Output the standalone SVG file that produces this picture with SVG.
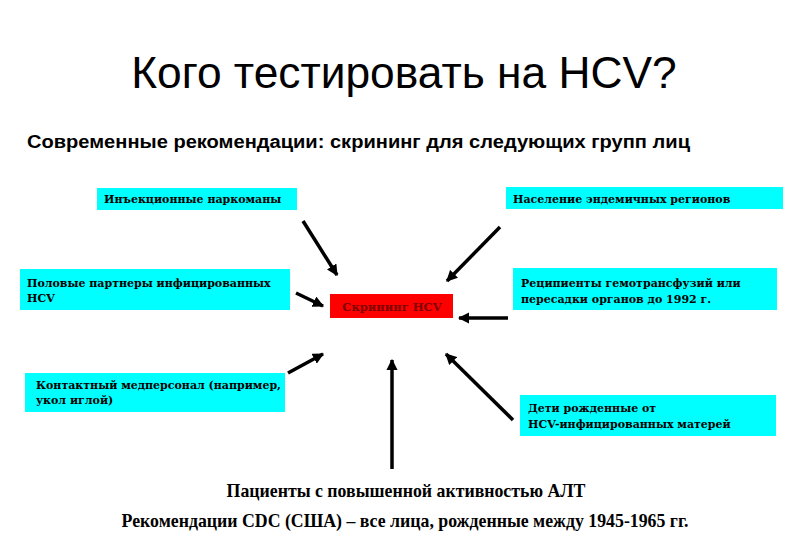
<svg xmlns="http://www.w3.org/2000/svg" width="810" height="540" viewBox="0 0 810 540">
<defs>
<style>
.box{fill:#00ffff}
.bt{font-family:"DejaVu Serif","Liberation Serif",serif;font-weight:bold;font-size:11px;fill:#000}
.ar{stroke:#000;stroke-width:3.5;fill:none;marker-end:url(#ah)}
.bot{font-family:"Liberation Serif",serif;font-weight:bold;font-size:17.8px;fill:#000;text-anchor:middle}
</style>
<marker id="ah" viewBox="0 0 10 10" refX="9" refY="5" markerWidth="3.2" markerHeight="3.2" orient="auto" markerUnits="strokeWidth">
<path d="M0,0 L10,5 L0,10 Z" fill="#000"/>
</marker>
</defs>
<rect width="810" height="540" fill="#fff"/>
<text x="404" y="88" font-family="Liberation Sans, Arial, sans-serif" font-size="44.3" text-anchor="middle" fill="#000">Кого тестировать на HCV?</text>
<text x="27" y="148" font-family="Liberation Sans, Arial, sans-serif" font-size="18" font-weight="bold" fill="#000" textLength="663" lengthAdjust="spacingAndGlyphs">Современные рекомендации: скрининг для следующих групп лиц</text>

<g id="center">
<rect x="330" y="294" width="123" height="24" fill="#ff0000"/>
<text x="392" y="311" font-family="DejaVu Serif, Liberation Serif, serif" font-weight="bold" font-size="11.5" fill="#800000" text-anchor="middle">Скрининг HCV</text>
</g>
<g id="n1">
<rect class="box" x="97" y="188" width="200" height="22"/>
<text class="bt" x="104" y="203">Инъекционные наркоманы</text>
</g>
<g id="n2">
<rect class="box" x="506" y="187" width="277" height="22"/>
<text class="bt" x="513" y="203">Население эндемичных регионов</text>
</g>
<g id="n3">
<rect class="box" x="20" y="269" width="270" height="41"/>
<text class="bt" x="27" y="287">Половые партнеры инфицированных</text>
<text class="bt" x="27" y="302">HCV</text>
</g>
<g id="n4">
<rect class="box" x="513" y="268" width="264" height="42"/>
<text class="bt" x="521" y="287">Реципиенты гемотрансфузий или</text>
<text class="bt" x="521" y="303">пересадки органов до 1992 г.</text>
</g>
<g id="n5">
<rect class="box" x="25" y="373" width="260" height="39"/>
<text class="bt" x="36" y="389">Контактный медперсонал (например,</text>
<text class="bt" x="36" y="404">укол иглой)</text>
</g>
<g id="n6">
<rect class="box" x="520" y="395" width="256" height="41"/>
<text class="bt" x="528" y="412">Дети рожденные от</text>
<text class="bt" x="528" y="428">HCV-инфицированных матерей</text>
</g>
<g id="n7">
<text class="bot" x="406" y="497">Пациенты с повышенной активностью АЛТ</text>
</g>
<g id="n8">
<text class="bot" x="405" y="527">Рекомендации CDC (США) – все лица, рожденные между 1945-1965 гг.</text>
</g>
<g id="connectors">
<line class="ar" x1="303" y1="221" x2="337" y2="275"/>
<line class="ar" x1="500" y1="227" x2="447" y2="281"/>
<line class="ar" x1="296" y1="293" x2="323" y2="306"/>
<line class="ar" x1="508" y1="318" x2="459" y2="318"/>
<line class="ar" x1="288" y1="373" x2="323" y2="354"/>
<line class="ar" x1="392" y1="469" x2="392" y2="360"/>
<line class="ar" x1="513" y1="420" x2="446" y2="354"/>
</g>
</svg>
